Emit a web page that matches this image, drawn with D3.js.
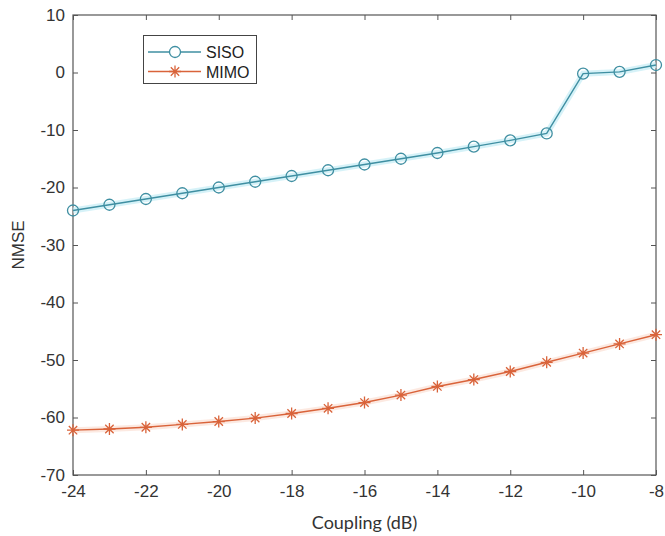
<!DOCTYPE html>
<html>
<head>
<meta charset="utf-8">
<script src="https://cdn.jsdelivr.net/npm/d3@7"></script>
<style>
  body { margin: 0; background: #fff; }
  svg { display: block; }
</style>
</head>
<body>
<div id="chart"></div>
<script>
// Données
const coupling = [-24, -23, -22, -21, -20, -19, -18, -17, -16, -15, -14, -13, -12, -11, -10, -9, -8];
const siso = [-24, -23, -22, -21, -20, -19, -18, -17, -16, -15, -14, -12.9, -11.8, -10.6, -0.2, 0.1, 1.3];
const mimo = [-62.2, -62.0, -61.7, -61.2, -60.7, -60.1, -59.3, -58.4, -57.4, -56.1, -54.6, -53.4, -52.0, -50.4, -48.8, -47.2, -45.6];
const xTicks = [-24, -22, -20, -18, -16, -14, -12, -10, -8];
const yTicks = [-70, -60, -50, -40, -30, -20, -10, 0, 10];
const seriesNames = ['SISO', 'MIMO'];

const W = 665, H = 536;
const margin = { top: 15, right: 9, bottom: 61, left: 73 },
    width = W - margin.left - margin.right,
    height = H - margin.top - margin.bottom;

const svg = d3.select('#chart')
    .append('svg')
    .attr('width', W)
    .attr('height', H);

const g = svg.append('g')
    .attr('transform', `translate(${margin.left},${margin.top})`);

const x = d3.scaleLinear().domain([-24, -8]).range([0, width]);
const y = d3.scaleLinear().domain([-70, 10]).range([height, 0]);

const axisColor = '#555';
const textColor = '#333';
// tiret simple au lieu du signe moins unicode
const fmt = d => String(d);

// Axes (ticks vers l'intérieur, comme MATLAB)
const styleAxis = sel => {
    sel.select('.domain').remove();
    sel.selectAll('line').attr('stroke', axisColor);
    sel.selectAll('text')
        .attr('fill', textColor)
        .style('font-family', 'Liberation Sans, Arial, sans-serif')
        .style('font-size', '17px');
};

g.append('g')
    .attr('transform', `translate(0,${height})`)
    .call(d3.axisBottom(x).tickValues(xTicks).tickFormat(fmt).tickSizeInner(-5).tickSizeOuter(0).tickPadding(10))
    .call(styleAxis);

g.append('g')
    .call(d3.axisLeft(y).tickValues(yTicks).tickFormat(fmt).tickSizeInner(-5).tickSizeOuter(0).tickPadding(8))
    .call(styleAxis);

// Ticks en haut et à droite
g.append('g')
    .call(d3.axisTop(x).tickValues(xTicks).tickSizeInner(-5).tickSizeOuter(0).tickFormat(''))
    .call(styleAxis);
g.append('g')
    .attr('transform', `translate(${width},0)`)
    .call(d3.axisRight(y).tickValues(yTicks).tickSizeInner(-5).tickSizeOuter(0).tickFormat(''))
    .call(styleAxis);

// Cadre
g.append('rect')
    .attr('width', width)
    .attr('height', height)
    .attr('fill', 'none')
    .attr('stroke', axisColor)
    .attr('stroke-width', 1.2);

// Titres des axes
svg.append('text')
    .attr('x', margin.left + width / 2)
    .attr('y', 529)
    .attr('text-anchor', 'middle')
    .attr('fill', textColor)
    .style('font-family', 'Lato, Open Sans, sans-serif')
    .style('font-size', '18px')
    .text('Coupling (dB)');

svg.append('text')
    .attr('transform', `translate(24,${margin.top + height / 2}) rotate(-90)`)
    .attr('text-anchor', 'middle')
    .attr('fill', textColor)
    .style('font-family', 'Liberation Sans, Arial, sans-serif')
    .style('font-size', '17px')
    .text('NMSE');

const sisoData = coupling.map((c, i) => ({ c: c, v: siso[i] }));
const mimoData = coupling.map((c, i) => ({ c: c, v: mimo[i] }));

const line = d3.line().x(d => x(d.c)).y(d => y(d.v));

const sisoColor = '#3f8fa2', sisoGlow = '#c4ecf5';
const mimoColor = '#d9633a', mimoGlow = '#fbe0d4';

// Halo léger
g.append('path').datum(sisoData)
    .attr('fill', 'none').attr('stroke', sisoGlow).attr('stroke-width', 6).attr('opacity', 0.7)
    .attr('d', line);
g.append('path').datum(mimoData)
    .attr('fill', 'none').attr('stroke', mimoGlow).attr('stroke-width', 6).attr('opacity', 0.7)
    .attr('d', line);

g.append('path').datum(sisoData)
    .attr('fill', 'none').attr('stroke', sisoColor).attr('stroke-width', 1.4)
    .attr('d', line);
g.append('path').datum(mimoData)
    .attr('fill', 'none').attr('stroke', mimoColor).attr('stroke-width', 1.4)
    .attr('d', line);

// Marqueurs
const circleMarker = (sel, r) => sel.append('circle')
    .attr('r', r).attr('fill', 'none')
    .attr('stroke', sisoColor).attr('stroke-width', 1.3);

const starPath = s => {
    const a = s * 0.7;
    return `M${-s},0L${s},0M0,${-s}L0,${s}M${-a},${-a}L${a},${a}M${-a},${a}L${a},${-a}`;
};

g.selectAll('.siso-pt').data(sisoData).enter()
    .append('g').attr('class', 'siso-pt')
    .attr('transform', d => `translate(${x(d.c)},${y(d.v)})`)
    .call(sel => circleMarker(sel, 5.5));

g.selectAll('.mimo-pt').data(mimoData).enter()
    .append('path').attr('class', 'mimo-pt')
    .attr('transform', d => `translate(${x(d.c)},${y(d.v)})`)
    .attr('d', starPath(6))
    .attr('stroke', mimoColor).attr('stroke-width', 1.3).attr('fill', 'none');

// Légende
const legend = svg.append('g');
legend.append('rect')
    .attr('x', 143.5).attr('y', 35.5)
    .attr('width', 113).attr('height', 48)
    .attr('fill', '#fff').attr('stroke', '#444').attr('stroke-width', 1);

seriesNames.forEach((name, i) => {
    const ly = 52 + i * 19.5;
    const col = i === 0 ? sisoColor : mimoColor;
    legend.append('line')
        .attr('x1', 148).attr('x2', 201).attr('y1', ly).attr('y2', ly)
        .attr('stroke', col).attr('stroke-width', 1.4);
    if (i === 0) {
        legend.append('circle').attr('cx', 175).attr('cy', ly).attr('r', 5.5)
            .attr('fill', '#fff').attr('stroke', col).attr('stroke-width', 1.3);
    } else {
        legend.append('path').attr('transform', `translate(175,${ly})`)
            .attr('d', starPath(6)).attr('stroke', col).attr('stroke-width', 1.3).attr('fill', 'none');
    }
    legend.append('text')
        .attr('x', 206).attr('y', ly + 6)
        .attr('fill', '#222')
        .style('font-family', 'Liberation Sans, Arial, sans-serif')
        .style('font-size', '16px')
        .text(name);
});
</script>
</body>
</html>
